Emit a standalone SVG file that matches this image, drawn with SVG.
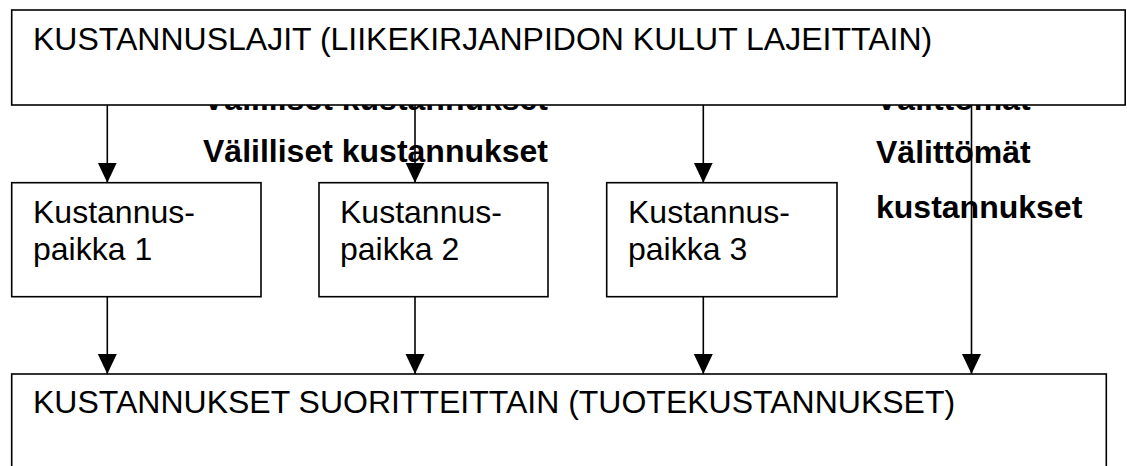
<svg xmlns="http://www.w3.org/2000/svg" width="1127" height="466" viewBox="0 0 1127 466">
  <style>
    .box { fill: #ffffff; stroke: #000000; stroke-width: 1.6; }
    .lbl { font-family: "Liberation Sans", Arial, sans-serif; font-size: 32px; fill: #000000; }
    .bold { font-family: "Liberation Sans", Arial, sans-serif; font-size: 32px; font-weight: bold; fill: #000000; }
    .conn { stroke: #000000; stroke-width: 1.6; fill: none; marker-end: url(#arrow); }
  </style>
  <defs>
    <marker id="arrow" markerUnits="userSpaceOnUse" markerWidth="20" markerHeight="20" refX="20" refY="10" orient="auto">
      <path d="M0,0.5 L20,10 L0,19.5 Z" fill="#000000"/>
    </marker>
  </defs>
  <rect width="1127" height="466" fill="#ffffff"/>

  <!-- labels partly hidden behind the top box -->
  <g id="hidden-labels">
    <text class="bold" x="203" y="110">Välilliset kustannukset</text>
    <text class="bold" x="876" y="110">Välittömät</text>
  </g>

  <g id="cost-types">
    <rect class="box" x="11.7" y="10" width="1113.5" height="95"/>
    <text class="lbl" x="33" y="50">KUSTANNUSLAJIT (LIIKEKIRJANPIDON KULUT LAJEITTAIN)</text>
  </g>

  <g id="indirect-label">
    <text class="bold" x="203" y="162">Välilliset kustannukset</text>
  </g>

  <g id="direct-label">
    <text class="bold" x="876" y="163">Välittömät</text>
    <text class="bold" x="876" y="218">kustannukset</text>
  </g>

  <g id="cost-centre-1">
    <rect class="box" x="11.7" y="182.7" width="249.3" height="114"/>
    <text class="lbl" x="33" y="223">Kustannus-</text>
    <text class="lbl" x="33" y="260">paikka 1</text>
  </g>

  <g id="cost-centre-2">
    <rect class="box" x="319" y="182.7" width="229" height="114"/>
    <text class="lbl" x="340" y="223">Kustannus-</text>
    <text class="lbl" x="340" y="260">paikka 2</text>
  </g>

  <g id="cost-centre-3">
    <rect class="box" x="606.7" y="182.7" width="230.3" height="114"/>
    <text class="lbl" x="628" y="223">Kustannus-</text>
    <text class="lbl" x="628" y="260">paikka 3</text>
  </g>

  <g id="product-costs">
    <rect class="box" x="11.7" y="374" width="1094.6" height="110"/>
    <text class="lbl" x="33" y="413">KUSTANNUKSET SUORITTEITTAIN (TUOTEKUSTANNUKSET)</text>
  </g>

  <g id="connectors">
    <line class="conn" x1="107.3" y1="105" x2="107.3" y2="182.7"/>
    <line class="conn" x1="415" y1="105" x2="415" y2="182.7"/>
    <line class="conn" x1="703.3" y1="105" x2="703.3" y2="182.7"/>
    <line class="conn" x1="971.5" y1="105" x2="971.5" y2="374"/>
    <line class="conn" x1="107.3" y1="296.7" x2="107.3" y2="374"/>
    <line class="conn" x1="415" y1="296.7" x2="415" y2="374"/>
    <line class="conn" x1="703.3" y1="296.7" x2="703.3" y2="374"/>
  </g>
</svg>
